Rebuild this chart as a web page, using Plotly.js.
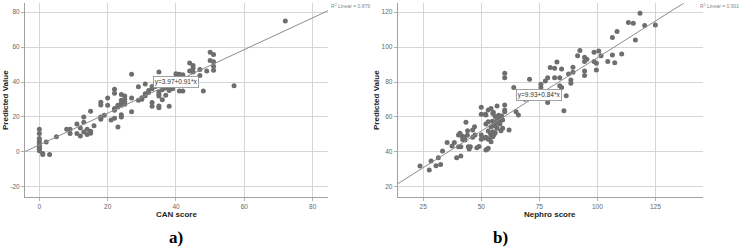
<!DOCTYPE html>
<html><head><meta charset="utf-8">
<script src="https://cdn.plot.ly/plotly-3.0.1.min.js"></script>
<style>html,body{margin:0;padding:0;background:#fff}#chart{width:742px;height:247px}</style>
</head><body><div id="chart"></div>
<script>
// Chart a) CAN score vs Predicted Value
const canScore = [0,0,0,0,0,0,0,0,0,0,0,1,1,2,3,5,8,9,9,11,11,12,12,13,13,13,14,14,15,15,15,16,18,18,18,18,18,19,20,20,21,22,22,22,22,22,23,23,23,24,24,24,24,24,24,25,25,25,25,27,27,27,29,29,30,30,31,31,31,32,32,33,33,33,33,34,34,35,35,35,35,35,35,36,36,36,37,37,37,38,38,38,39,39,39,40,40,40,40,41,41,41,42,42,42,44,44,45,45,45,46,47,47,48,49,50,50,51,51,51,51,57,72];
const canPred = [13,10.5,7.6,6.1,4.8,3.4,2.3,1.3,0.6,4,2,-1,-1.5,5.7,-1.5,8.6,13,13,10.5,16,10.5,13.7,9.1,20,17,11.4,13,9.9,23.2,11.8,10.7,14.9,28.4,26.9,19.6,18.7,20,21,30.9,26.7,18.3,35.8,33.5,24.8,19.2,23.8,14.3,25.7,26.7,32.8,29.5,26.7,21.3,20,28,32,30.1,28.6,27.2,44.4,30.9,22.9,37.3,29.5,30.1,31,38.9,33.3,32.2,35.2,34,36.2,28.2,26.1,37.5,39,37.5,45.7,34.3,32.8,32,26.3,25.3,35.6,29.9,38,36.6,32.4,38.5,26.1,35.2,37.5,38,36.2,40,44.8,42.9,41,39,44.4,34.9,42,43.2,34.9,44.2,50.9,46.3,49.5,48,45.7,40.6,47.2,43.8,34.9,46.3,57.1,52.4,55.8,51.6,49.1,46.7,37.9,74.9];
const canFit = {intercept: 3.97, slope: 0.91, r2: '0.879', label: 'y=3.97+0.91*x', at: [40, 40]};
const canXTicks = [0,20,40,60,80];
const canYTicks = [-20,0,20,40,60,80];

// Chart b) Nephro score vs Predicted Value
const nephroScore = [23.6,27.6,28.4,30.5,31.5,32.5,33.3,35.3,37.4,38.4,39.4,40.2,40.2,41,41.9,42.7,41.2,41.2,43,43.4,44.1,44.4,44.8,45.3,46.3,46.3,47.1,48.1,47.3,42,40.8,44,50,50,50,50,52,52,52,52,53,53,53,53,54.2,54.2,54.2,54.2,55,55,55,56,56,56,56.8,56.8,56.8,57.8,57.8,58.5,58.5,59.2,59.2,60.1,60.1,60.1,60.1,60.1,51.8,55.2,57,56.5,58,55.5,54,53.5,55.5,51.5,52.5,57.5,58.8,49,53,54.8,62,64,65,66,68.8,70.8,75.7,75.7,77.6,78.6,78.6,79.7,79.7,81.6,81.6,82.6,83.8,83.8,84.6,84.6,85.6,86.6,87.6,88.6,88.6,89.5,89.5,91.5,92.5,94.5,94.5,94.5,94.5,95.5,98.6,98.6,99.6,99.6,100.6,101.6,104.5,106.5,106.5,107.5,108.5,110.5,113.4,115.5,116.4,118.4,120.4,125];
const nephroPred = [31.9,29.6,34.7,32,36.6,32.8,40.5,45.4,43.3,45.4,36.6,49.6,42.9,49.6,49,48.3,42.9,37.6,46.8,56.9,52.1,42.9,41.6,42.9,48.3,52.5,54.4,42.4,49.6,47,50.6,49.5,65.5,61.5,49.6,47.2,61.1,56,48.3,41,64,57.3,47.2,42,64.9,54.4,49.6,45.8,62,51.5,48.7,60.2,54.8,51,66.3,58.2,53.5,60.2,57.3,59.2,52.1,58.2,53.5,66.8,64,63,85,82.5,61.5,62.7,59,57,56,55.5,50.5,47.5,50,48,41.5,61,60.5,43,52,57.5,52.5,76.8,63,61.1,70.1,81.6,78.7,76.8,80.6,82.5,68.2,88.3,70.7,87.9,82.5,91.5,82.5,77.9,87.5,76.8,63.6,72.2,84.6,81.2,79.3,88.5,85.6,95.1,98,86.3,83.7,94.2,91.7,93.1,97,91.7,90.7,86.9,97.8,95.1,91.7,105.5,95.5,91.1,108.9,96.1,114.1,113.7,104.1,119.4,112.4,112.7];
const nephroFit = {intercept: 9.93, slope: 0.84, r2: '0.901', label: 'y=9.93+0.84*x', at: [75, 72.5]};
const nephroXTicks = [25,50,75,100,125];
const nephroYTicks = [20,40,60,80,100,120];

const W = 742, H = 247;
const rangeA = {x: [-4.2, 84.5], y: [-25.7, 85.1]};
const rangeB = {x: [14, 145.4], y: [14.3, 125.1]};
const domA = [25/W, 328/W], domB = [397.7/W, 702.7/W];
const domY = [1 - 196.7/H, 1 - 3.3/H];

const markerStyle = {color: '#6e6e6e', size: 5, line: {width: 0}};
const lineStyle = {color: '#8c8c8c', width: 1};

function fitLine(fit, xr) {
  return {x: xr, y: xr.map(v => fit.intercept + fit.slope * v)};
}
const la = fitLine(canFit, rangeA.x), lb = fitLine(nephroFit, rangeB.x);

const traces = [
  {x: canScore, y: canPred, type: 'scatter', mode: 'markers', marker: markerStyle, xaxis: 'x', yaxis: 'y', hoverinfo: 'skip'},
  {x: la.x, y: la.y, type: 'scatter', mode: 'lines', line: lineStyle, xaxis: 'x', yaxis: 'y', hoverinfo: 'skip'},
  {x: nephroScore, y: nephroPred, type: 'scatter', mode: 'markers', marker: markerStyle, xaxis: 'x2', yaxis: 'y2', hoverinfo: 'skip'},
  {x: lb.x, y: lb.y, type: 'scatter', mode: 'lines', line: lineStyle, xaxis: 'x2', yaxis: 'y2', hoverinfo: 'skip'}
];

const tickFont = {family: 'Liberation Sans, Arial, sans-serif', size: 6.5, color: '#666'};
function axis(dom, range, ticks, anchor) {
  return {domain: dom, range: range, tickvals: ticks, ticktext: ticks.map(String), anchor: anchor,
    showgrid: true, gridcolor: '#d6d6d6', gridwidth: 1, zeroline: false,
    showline: true, linecolor: '#a0a0a0', linewidth: 1,
    ticks: 'outside', ticklen: 3, tickcolor: '#b0b0b0', tickfont: tickFont, fixedrange: true};
}

const titleFont = {family: 'Liberation Sans, Arial, sans-serif', size: 8, color: '#222'};
const ann = [];
function addChartTexts(fit, xref, yref, xTitle, xCenterPx, yTitleXPx, r2Px, r2Anchor, label, labelXPx) {
  ann.push({x: fit.at[0], y: fit.at[1], xref: xref, yref: yref, text: fit.label, showarrow: false,
    font: {family: 'Liberation Sans, Arial, sans-serif', size: 6.5, color: '#333'},
    bgcolor: '#fff', bordercolor: '#8c8c8c', borderwidth: 0.8, borderpad: 1});
  ann.push({x: r2Px / W, y: 1 - 6 / H, xref: 'paper', yref: 'paper', xanchor: r2Anchor, yanchor: 'middle',
    text: 'R<sup>2</sup> Linear = ' + fit.r2, showarrow: false,
    font: {family: 'Liberation Sans, Arial, sans-serif', size: 5, color: '#888'}});
  ann.push({x: xCenterPx / W, y: 1 - 214 / H, xref: 'paper', yref: 'paper', xanchor: 'center', yanchor: 'middle',
    text: '<b>' + xTitle + '</b>', showarrow: false, font: titleFont});
  ann.push({x: yTitleXPx / W, y: 1 - 100 / H, xref: 'paper', yref: 'paper', xanchor: 'center', yanchor: 'middle',
    text: '<b>Predicted Value</b>', textangle: -90, showarrow: false, font: titleFont});
  ann.push({x: labelXPx / W, y: 1 - 237 / H, xref: 'paper', yref: 'paper', xanchor: 'center', yanchor: 'middle',
    text: '<b>' + label + '</b>', showarrow: false,
    font: {family: 'Liberation Serif, Times New Roman, serif', size: 17, color: '#000'}});
}
addChartTexts(canFit, 'x', 'y', 'CAN score', 176, 5, 329, 'left', 'a)', 176);
addChartTexts(nephroFit, 'x2', 'y2', 'Nephro score', 550, 376, 741, 'right', 'b)', 501);

const layout = {
  width: W, height: H, margin: {l: 0, r: 0, t: 0, b: 0},
  paper_bgcolor: '#fff', plot_bgcolor: '#fff', showlegend: false,
  xaxis: axis(domA, rangeA.x, canXTicks, 'y'),
  yaxis: axis(domY, rangeA.y, canYTicks, 'x'),
  xaxis2: axis(domB, rangeB.x, nephroXTicks, 'y2'),
  yaxis2: axis(domY, rangeB.y, nephroYTicks, 'x2'),
  annotations: ann
};
Plotly.newPlot('chart', traces, layout, {displayModeBar: false, staticPlot: true});
</script></body></html>
